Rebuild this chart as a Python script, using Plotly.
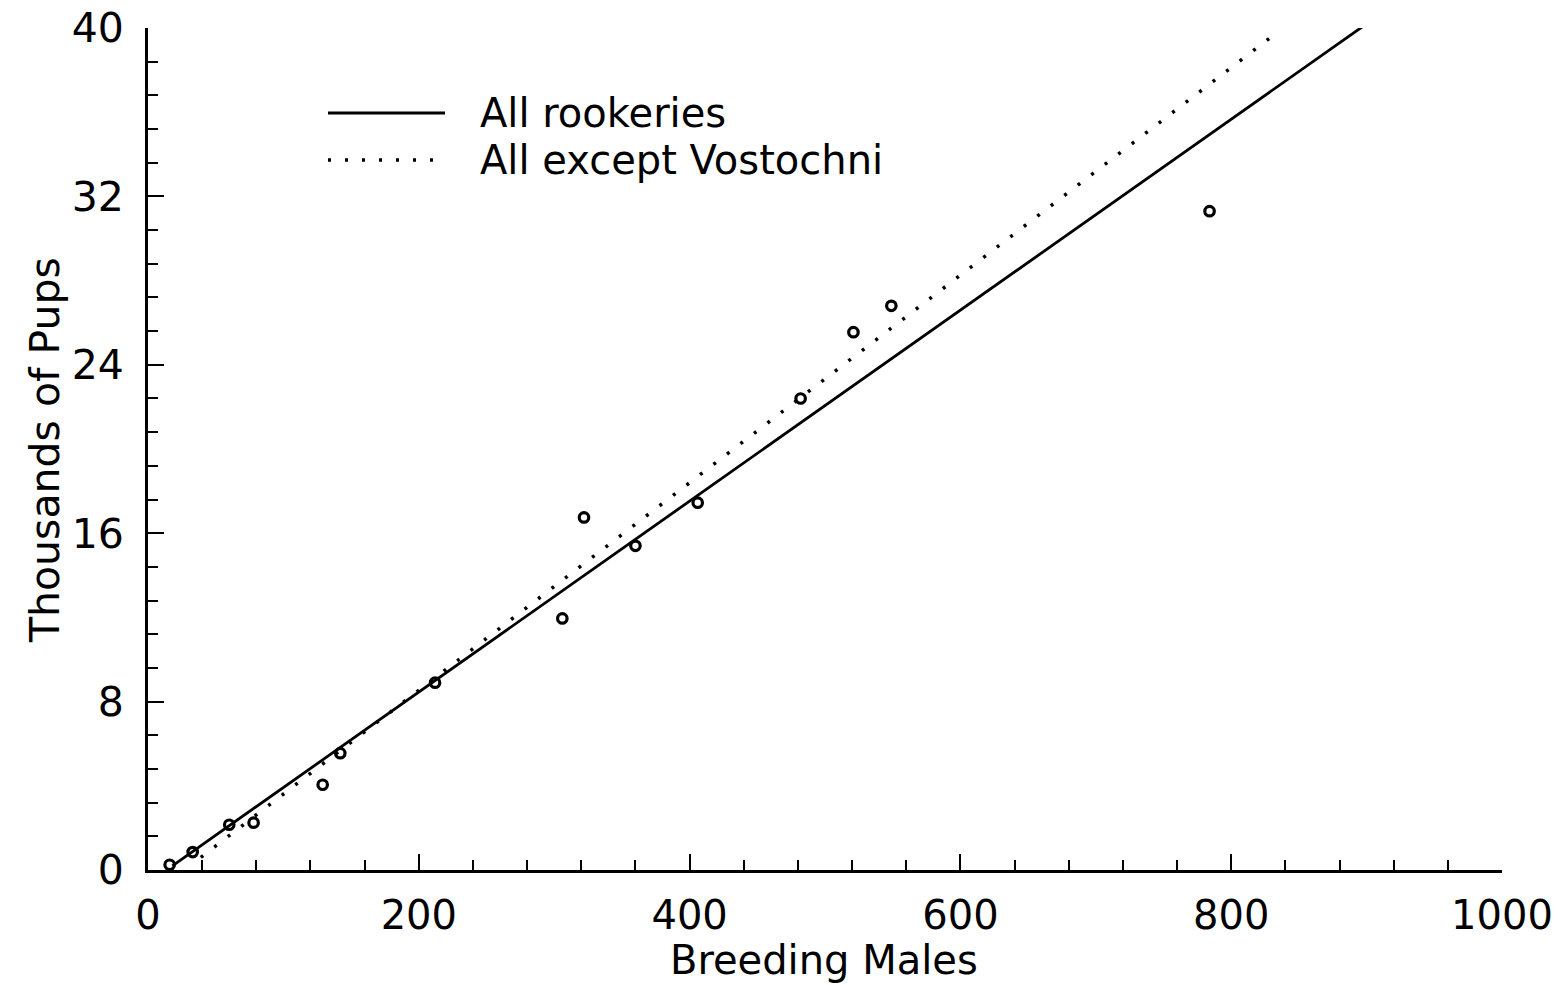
import plotly.graph_objects as go

# Rookery counts: breeding males vs. thousands of pups
males = [16, 33, 60, 78, 129, 142, 212, 306, 322, 360, 406, 482, 521, 549, 784]
pups = [0.25, 0.85, 2.15, 2.25, 4.05, 5.55, 8.9, 11.95, 16.75, 15.4, 17.45, 22.4, 25.55, 26.8, 31.3]

# Fitted regression lines (end points)
fit_all_x = [18, 900]
fit_all_y = [0.2, 40.2]
fit_excl_x = [39, 828]
fit_excl_y = [0.6, 39.5]

x_ticks = [0, 200, 400, 600, 800, 1000]
y_ticks = [0, 8, 16, 24, 32, 40]

FONT = "DejaVu Sans"
INK = "black"

fig = go.Figure()

fig.add_trace(go.Scatter(
    x=fit_all_x, y=fit_all_y, mode="lines",
    line=dict(color=INK, width=2.8), showlegend=False, hoverinfo="skip",
))
fig.add_trace(go.Scatter(
    x=fit_excl_x, y=fit_excl_y, mode="lines",
    line=dict(color=INK, width=3.5, dash="3px,14px"), showlegend=False, hoverinfo="skip",
))
fig.add_trace(go.Scatter(
    x=males, y=pups, mode="markers",
    marker=dict(symbol="circle-open", size=9.5, color=INK, line=dict(width=3.2, color=INK)),
    showlegend=False,
))

# Legend drawn as samples + labels in paper space
def px_to_paper_x(px):
    return (px - 148) / 1354

def px_to_paper_y(py):
    return (870 - py) / 842

fig.add_shape(type="line", xref="paper", yref="paper",
              x0=px_to_paper_x(328), x1=px_to_paper_x(445),
              y0=px_to_paper_y(113), y1=px_to_paper_y(113),
              line=dict(color=INK, width=2.8))
fig.add_shape(type="line", xref="paper", yref="paper",
              x0=px_to_paper_x(328), x1=px_to_paper_x(436),
              y0=px_to_paper_y(160), y1=px_to_paper_y(160),
              line=dict(color=INK, width=3.5, dash="3px,14px"))
for label, py in [("All rookeries", 113), ("All except Vostochni", 160)]:
    fig.add_annotation(xref="paper", yref="paper", x=px_to_paper_x(478), y=px_to_paper_y(py),
                       text=label, showarrow=False, xanchor="left", yanchor="middle",
                       font=dict(family=FONT, size=40, color=INK))

# Axis titles
fig.add_annotation(xref="paper", yref="paper", x=px_to_paper_x(824), y=px_to_paper_y(985),
                   text="Breeding Males", showarrow=False, xanchor="center", yanchor="bottom",
                   font=dict(family=FONT, size=40, color=INK))
fig.add_annotation(xref="paper", yref="paper", x=px_to_paper_x(45), y=px_to_paper_y(450),
                   text="Thousands of Pups", showarrow=False, textangle=-90,
                   xanchor="center", yanchor="middle",
                   font=dict(family=FONT, size=41, color=INK))

fig.update_xaxes(
    range=[0, 1000], tickvals=x_ticks, ticktext=[str(v) for v in x_ticks],
    ticks="inside", ticklen=16, tickwidth=2, tickcolor=INK,
    minor=dict(dtick=40, ticks="inside", ticklen=10, tickwidth=2, tickcolor=INK),
    showline=True, linecolor=INK, linewidth=3, showgrid=False, zeroline=False,
    tickfont=dict(family=FONT, size=40, color=INK), ticklabelstandoff=8,
)
fig.update_yaxes(
    range=[0, 40], tickvals=y_ticks, ticktext=[str(v) for v in y_ticks],
    ticks="inside", ticklen=16, tickwidth=2, tickcolor=INK,
    minor=dict(dtick=1.6, ticks="inside", ticklen=10, tickwidth=2, tickcolor=INK),
    showline=True, linecolor=INK, linewidth=3, showgrid=False, zeroline=False,
    tickfont=dict(family=FONT, size=41, color=INK), ticklabelstandoff=13,
)

fig.update_layout(
    width=1562, height=985,
    margin=dict(l=148, r=60, t=28, b=115, autoexpand=False),
    paper_bgcolor="white", plot_bgcolor="white",
    showlegend=False,
)

fig.write_html("out.html")
